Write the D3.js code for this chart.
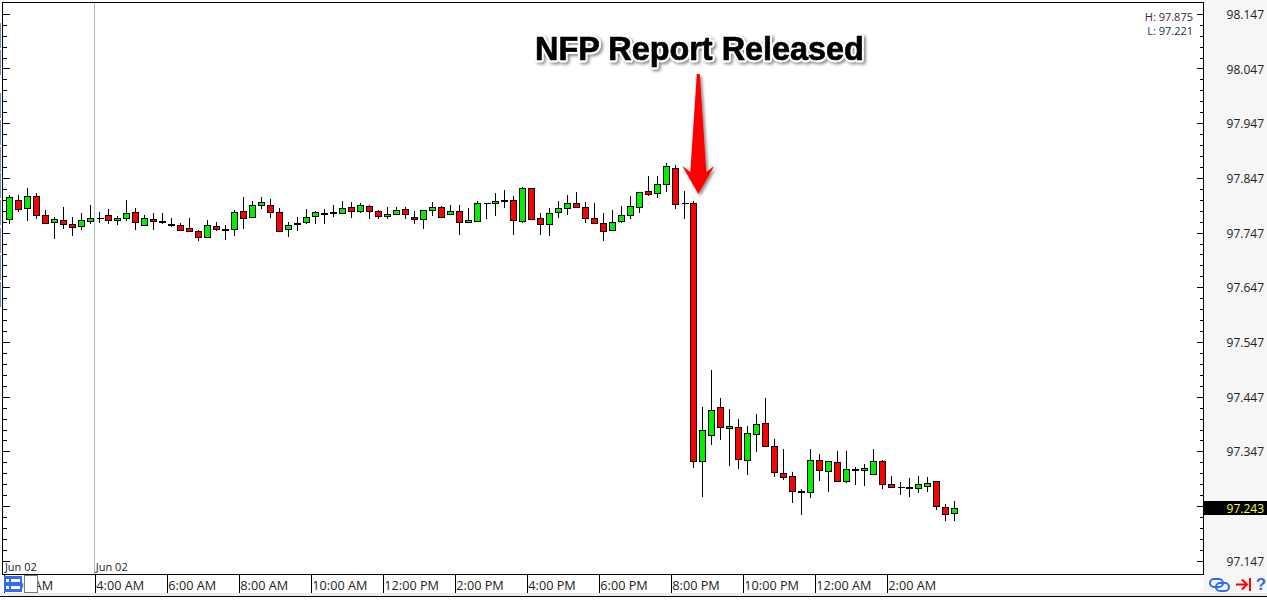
<!DOCTYPE html>
<html>
<head>
<meta charset="utf-8">
<script src="https://cdnjs.cloudflare.com/ajax/libs/d3/7.8.5/d3.min.js"></script>
<style>
  html, body { margin: 0; padding: 0; background: #fff; overflow: hidden; }
  svg { display: block; font-family: "Open Sans", sans-serif; }
</style>
</head>
<body>
<div id="chart"></div>
<script>
// candle values, 15 minute bars
var opens = [97.772,97.807,97.792,97.814,97.780,97.767,97.770,97.763,97.759,97.769,
  97.774,97.780,97.770,97.774,97.785,97.761,97.772,97.769,97.763,97.761,
  97.756,97.750,97.739,97.759,97.754,97.754,97.787,97.776,97.798,97.798,
  97.785,97.754,97.764,97.767,97.778,97.782,97.784,97.783,97.794,97.787,
  97.796,97.787,97.778,97.781,97.790,97.776,97.772,97.789,97.794,97.781,
  97.787,97.767,97.770,97.802,97.802,97.807,97.807,97.769,97.829,97.774,
  97.763,97.785,97.792,97.802,97.794,97.774,97.765,97.752,97.769,97.780,
  97.794,97.823,97.820,97.836,97.865,97.802,97.802,97.330,97.377,97.429,
  97.390,97.392,97.332,97.379,97.399,97.357,97.308,97.302,97.274,97.273,
  97.332,97.312,97.328,97.293,97.315,97.313,97.306,97.330,97.288,97.282,
  97.282,97.281,97.284,97.293,97.246,97.235]
var highs = [97.816,97.817,97.830,97.820,97.789,97.776,97.795,97.777,97.784,97.798,
  97.786,97.791,97.778,97.808,97.793,97.780,97.784,97.784,97.774,97.765,
  97.774,97.752,97.771,97.767,97.761,97.789,97.813,97.806,97.813,97.809,
  97.793,97.767,97.777,97.791,97.787,97.791,97.798,97.806,97.804,97.802,
  97.798,97.790,97.795,97.795,97.795,97.787,97.789,97.804,97.796,97.798,
  97.798,97.793,97.805,97.802,97.820,97.826,97.814,97.831,97.829,97.784,
  97.793,97.806,97.817,97.822,97.804,97.802,97.784,97.789,97.797,97.815,
  97.823,97.851,97.851,97.875,97.871,97.824,97.805,97.429,97.497,97.446,
  97.425,97.407,97.394,97.416,97.446,97.371,97.352,97.310,97.279,97.352,
  97.343,97.330,97.349,97.349,97.319,97.325,97.352,97.332,97.303,97.292,
  97.299,97.303,97.301,97.293,97.252,97.257]
var lows = [97.764,97.786,97.770,97.773,97.765,97.736,97.755,97.742,97.753,97.763,
  97.766,97.764,97.761,97.770,97.753,97.761,97.753,97.763,97.759,97.752,
  97.749,97.733,97.738,97.750,97.735,97.741,97.755,97.774,97.791,97.775,
  97.750,97.739,97.750,97.763,97.764,97.764,97.777,97.783,97.775,97.784,
  97.773,97.772,97.772,97.781,97.773,97.763,97.755,97.779,97.776,97.781,
  97.744,97.765,97.770,97.773,97.779,97.792,97.744,97.765,97.772,97.744,
  97.742,97.775,97.781,97.794,97.766,97.763,97.733,97.752,97.765,97.773,
  97.784,97.814,97.811,97.822,97.791,97.773,97.318,97.264,97.359,97.369,
  97.322,97.315,97.304,97.346,97.357,97.302,97.295,97.254,97.231,97.262,
  97.293,97.274,97.293,97.291,97.287,97.284,97.306,97.280,97.281,97.269,
  97.265,97.271,97.273,97.240,97.221,97.221]
var closes = [97.812,97.790,97.814,97.779,97.765,97.772,97.763,97.758,97.770,97.774,
  97.774,97.770,97.774,97.783,97.767,97.774,97.769,97.767,97.761,97.752,
  97.750,97.739,97.761,97.754,97.752,97.785,97.774,97.798,97.803,97.785,
  97.750,97.761,97.762,97.776,97.785,97.780,97.782,97.792,97.787,97.798,
  97.787,97.778,97.781,97.789,97.781,97.772,97.789,97.794,97.776,97.787,
  97.767,97.770,97.802,97.802,97.805,97.805,97.770,97.829,97.772,97.763,
  97.783,97.792,97.802,97.794,97.774,97.765,97.750,97.767,97.780,97.796,
  97.822,97.818,97.836,97.869,97.800,97.802,97.330,97.387,97.423,97.392,
  97.394,97.334,97.381,97.398,97.357,97.310,97.301,97.275,97.272,97.332,
  97.313,97.330,97.293,97.315,97.313,97.317,97.330,97.288,97.282,97.282,
  97.280,97.288,97.290,97.248,97.233,97.244]

var priceTicks = [98.147,98.047,97.947,97.847,97.747,97.647,97.547,97.447,97.347,97.147]
var minorTicks = d3.range(0, 51).map(function (i) { return 98.147 - i * 0.02 })
var timeBars = [-0.6,9.5,17.5,25.5,33.5,41.5,49.5,57.5,65.5,73.5,81.5,89.5,97.5]
var timeLabels = ["2:00 AM","4:00 AM","6:00 AM","8:00 AM","10:00 AM","12:00 PM","2:00 PM",
  "4:00 PM","6:00 PM","8:00 PM","10:00 PM","12:00 AM","2:00 AM"]
var dayBars = [-0.6,9.5]
var dayLabels = ["Jun 02","Jun 02"]
var lastPrice = 97.243
var releaseBar = 76
var dayHigh = 97.875, dayLow = 97.221

var width = 1267, height = 600
var plot = { left: 2.5, right: 1203.5, top: 2.5, bottom: 574.5 }

var svg = d3.select("#chart").append("svg")
  .attr("width", width)
  .attr("height", height)
  .attr("viewBox", "0 0 " + width + " " + height)

var defs = svg.append("defs")
var shadow = defs.append("filter").attr("id", "soft").attr("x", "-20%").attr("y", "-30%")
  .attr("width", "140%").attr("height", "170%")
shadow.append("feDropShadow").attr("dx", 2).attr("dy", 2).attr("stdDeviation", 1.5)
  .attr("flood-color", "#000").attr("flood-opacity", 0.45)

// scales
var x = d3.scaleLinear().domain([0, 105]).range([9.3, 954.3])
var y = d3.scaleLinear().domain([97.147, 98.147]).range([561.3, 14.3])
var px = function (v) { return Math.floor(v) + 0.5 }

// background bits
svg.append("rect").attr("x", plot.right).attr("y", 0)
  .attr("width", width - plot.right).attr("height", 592).attr("fill", "#f6f6f6")
svg.append("rect").attr("x", 0).attr("y", 593)
  .attr("width", width).attr("height", 3).attr("fill", "#ececec")
svg.append("line").attr("x1", 0).attr("x2", width).attr("y1", 596.5).attr("y2", 596.5)
  .attr("stroke", "#000")

// scroll marks left of the frame
var edgeStarts = [23, 50, 93, 120, 147, 173, 200, 228, 255, 282]
svg.append("g")
  .selectAll("rect")
  .data(edgeStarts)
  .enter()
  .append("rect")
  .attr("x", 0).attr("y", function (d) { return d })
  .attr("width", 1).attr("height", 25)
  .attr("fill", "#6f8fb8")

// day separator
svg.append("line")
  .attr("x1", px(x(dayBars[1]))).attr("x2", px(x(dayBars[1])))
  .attr("y1", plot.top).attr("y2", plot.bottom)
  .attr("stroke", "#a9c4b2")

// candles
var bars = d3.range(opens.length)
var candles = svg.append("g").attr("class", "candles")

candles.selectAll("line.wick")
  .data(bars)
  .enter()
  .append("line")
  .attr("class", "wick")
  .attr("x1", function (i) { return px(x(i)) })
  .attr("x2", function (i) { return px(x(i)) })
  .attr("y1", function (i) { return y(highs[i]) })
  .attr("y2", function (i) { return y(lows[i]) })
  .attr("stroke", "#000")
  .attr("shape-rendering", "crispEdges")

candles.selectAll("rect.body")
  .data(bars.filter(function (i) { return opens[i] !== closes[i] }))
  .enter()
  .append("rect")
  .attr("class", "body")
  .attr("x", function (i) { return px(x(i)) - 3 })
  .attr("width", 6)
  .attr("y", function (i) { return px(y(Math.max(opens[i], closes[i]))) })
  .attr("height", function (i) { return Math.round(Math.abs(y(opens[i]) - y(closes[i]))) })
  .attr("fill", function (i) { return closes[i] > opens[i] ? "#00f000" : "#ff0000" })
  .attr("stroke", "#000")
  .attr("shape-rendering", "crispEdges")

// flat bars are only a dash
candles.selectAll("line.flat")
  .data(bars.filter(function (i) { return opens[i] === closes[i] }))
  .enter()
  .append("line")
  .attr("class", "flat")
  .attr("x1", function (i) { return px(x(i)) - 3 })
  .attr("x2", function (i) { return px(x(i)) + 4 })
  .attr("y1", function (i) { return px(y(opens[i])) })
  .attr("y2", function (i) { return px(y(opens[i])) })
  .attr("stroke", "#000")
  .attr("shape-rendering", "crispEdges")

// frame
svg.append("rect")
  .attr("x", plot.left).attr("y", plot.top)
  .attr("width", plot.right - plot.left).attr("height", plot.bottom - plot.top)
  .attr("fill", "none").attr("stroke", "#000")

// price ticks, both sides
function sideTicks(x0, dir) {
  var g = svg.append("g").attr("stroke", "#000").attr("shape-rendering", "crispEdges")
  g.selectAll("line")
    .data(minorTicks)
    .enter()
    .append("line")
    .attr("x1", x0)
    .attr("x2", function (d) {
      var major = priceTicks.some(function (p) { return Math.abs(p - d) < 0.001 }) || Math.abs(d - 97.247) < 0.001
      return x0 + dir * (major ? 7 : 4)
    })
    .attr("y1", function (d) { return px(y(d)) })
    .attr("y2", function (d) { return px(y(d)) })
}
sideTicks(plot.left, 1)
sideTicks(plot.right, -1)

svg.append("g")
  .selectAll("text")
  .data(priceTicks)
  .enter()
  .append("text")
  .attr("x", 1264)
  .attr("y", function (d) { return y(d) + 4.5 })
  .attr("text-anchor", "end")
  .attr("font-size", 12)
  .attr("fill", "#222")
  .text(function (d) { return d3.format(".3f")(d) })

// current price
svg.append("rect").attr("x", 1204).attr("y", 501)
  .attr("width", 63).attr("height", 14).attr("fill", "#000")
svg.append("text")
  .attr("x", 1264).attr("y", 512.5)
  .attr("text-anchor", "end").attr("font-size", 12).attr("fill", "#ffff33")
  .text(d3.format(".3f")(lastPrice))

// time axis
var xAxis = d3.axisBottom(x)
  .tickValues(timeBars)
  .tickFormat(function (d, i) { return timeLabels[i] })
  .tickSize(18)
  .tickPadding(0)
var axisG = svg.append("g")
  .attr("transform", "translate(0," + plot.bottom + ")")
  .call(xAxis)
axisG.select(".domain").remove()
axisG.selectAll("line").attr("stroke", "#000").attr("shape-rendering", "crispEdges")
axisG.selectAll("text")
  .attr("x", 1)
  .attr("y", 5)
  .attr("dy", "0.8em")
  .attr("text-anchor", "start")
  .attr("font-family", "Open Sans")
  .attr("font-size", 12.7)
  .attr("fill", "#222")

svg.append("g")
  .selectAll("text")
  .data(dayBars)
  .enter()
  .append("text")
  .attr("x", function (d) { return x(d) + 1 })
  .attr("y", 571)
  .attr("font-size", 11)
  .attr("fill", "#222")
  .text(function (d, i) { return dayLabels[i] })

// high / low readout
svg.append("text").attr("x", 1193).attr("y", 21).attr("text-anchor", "end")
  .attr("font-size", 11).attr("fill", "#4a1a3c").text("H: " + dayHigh)
svg.append("text").attr("x", 1193).attr("y", 35).attr("text-anchor", "end")
  .attr("font-size", 11).attr("fill", "#1c2a5c").text("L: " + dayLow)

// list button and box over the first label
var btn = svg.append("g").attr("transform", "translate(4,576)")
btn.append("rect").attr("width", 18).attr("height", 16).attr("fill", "#2f6cf0")
btn.selectAll("rect.row")
  .data([3, 10])
  .enter()
  .append("rect")
  .attr("class", "row")
  .attr("x", 2).attr("y", function (d) { return d }).attr("width", 3).attr("height", 3).attr("fill", "#fff")
btn.selectAll("rect.row2")
  .data([3, 10])
  .enter()
  .append("rect")
  .attr("class", "row2")
  .attr("x", 7).attr("y", function (d) { return d }).attr("width", 9).attr("height", 3).attr("fill", "#fff")
svg.append("rect").attr("x", 24.5).attr("y", 575.5).attr("width", 13).attr("height", 17)
  .attr("fill", "#fff").attr("stroke", "#777")

// bottom right icons
var link = svg.append("g").attr("fill", "none").attr("stroke", "#2f6cf0").attr("stroke-width", 2)
link.append("rect").attr("x", 1210).attr("y", 579).attr("width", 13).attr("height", 8).attr("rx", 4)
link.append("rect").attr("x", 1216).attr("y", 583).attr("width", 13).attr("height", 8).attr("rx", 4)
var jump = svg.append("g").attr("fill", "none").attr("stroke", "#ff0000").attr("stroke-width", 2)
jump.append("path").attr("d", "M1236,584.5H1246M1242,579.5L1247,584.5L1242,589.5")
jump.append("path").attr("d", "M1250,578V591")
svg.append("text").attr("x", 1261).attr("y", 590).attr("text-anchor", "middle")
  .style("font-family", "'Liberation Sans'").attr("font-weight", "bold").attr("font-size", 17)
  .attr("fill", "#2f6cf0").text("?")

// annotation
var note = svg.append("g").attr("transform", "translate(" + (x(releaseBar) + 5) + "," + (y(opens[releaseBar]) - 9) + ")")
note.append("path")
  .attr("d", "M-1.5,-120L1.5,-120L8,-22L16,-28L0,0L-16,-28L-8,-22Z")
  .attr("fill", "#ff0000")
  .attr("filter", "url(#soft)")
var title = svg.append("g")
  .attr("filter", "url(#soft)")
  .style("font-family", "'Liberation Sans'")
  .attr("font-weight", "bold")
  .attr("font-size", 32.4)
  .attr("text-anchor", "middle")
title.append("text")
  .attr("x", 699.5).attr("y", 60)
  .attr("stroke", "#fff")
  .attr("stroke-width", 4.5)
  .attr("stroke-linejoin", "round")
  .attr("fill", "#fff")
  .text("NFP Report Released")
title.append("text")
  .attr("x", 699.5).attr("y", 60)
  .attr("stroke", "#000")
  .attr("stroke-width", 0.7)
  .attr("fill", "#000")
  .text("NFP Report Released")
</script>
</body>
</html>
